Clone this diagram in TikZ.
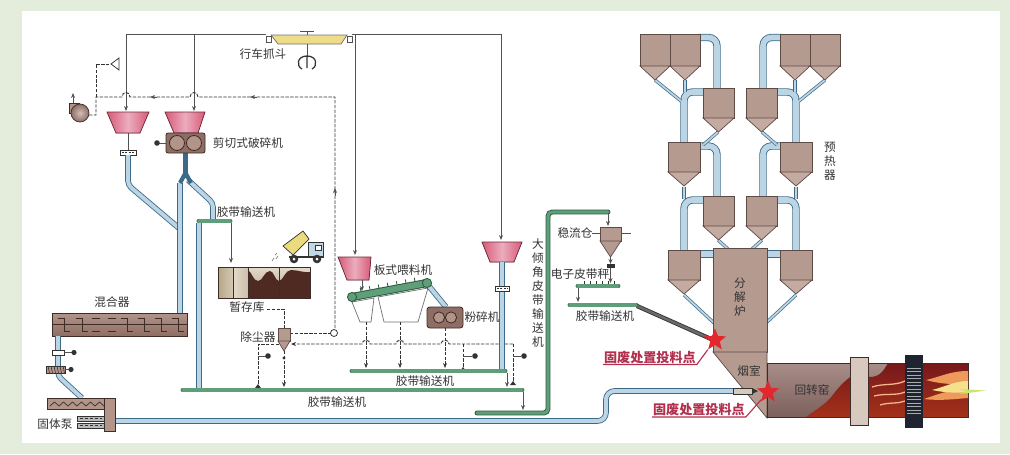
\documentclass[tikz,border=0pt]{standalone}
\usepackage{fontspec}
\newfontfamily\cjkfont{Noto Sans CJK SC}
\usetikzlibrary{positioning, shapes.geometric, arrows.meta, calc}

\definecolor{ink}{HTML}{333333}
\definecolor{panelbg}{HTML}{E4EDDC}
\definecolor{hopperpink}{HTML}{D85A7A}
\definecolor{hopperedge}{HTML}{6E2A3A}
\definecolor{machinebrown}{HTML}{8E6E64}
\definecolor{machinelight}{HTML}{B39489}
\definecolor{machineedge}{HTML}{3E2C28}
\definecolor{cycbrown}{HTML}{B59A90}
\definecolor{cyclight}{HTML}{C4ABA1}
\definecolor{cycedge}{HTML}{5E4A44}
\definecolor{pipefill}{HTML}{BCD5E4}
\definecolor{pipeedge}{HTML}{3C6A88}
\definecolor{beltfill}{HTML}{5E9E78}
\definecolor{beltedge}{HTML}{2F5A40}
\definecolor{craneyellow}{HTML}{EEDC8A}
\definecolor{truckyellow}{HTML}{EADB7E}
\definecolor{cabblue}{HTML}{BFD8E6}
\definecolor{soil}{HTML}{4E2A22}
\definecolor{storeA}{HTML}{B7A586}
\definecolor{storeB}{HTML}{E3DACA}
\definecolor{kilntop}{HTML}{A88D89}
\definecolor{kilnbottom}{HTML}{7C605C}
\definecolor{kilnred}{HTML}{8C1D20}
\definecolor{flameorange}{HTML}{EE9A5A}
\definecolor{flameyellow}{HTML}{F6E08C}
\definecolor{tyre}{HTML}{D8C9BE}
\definecolor{geardark}{HTML}{1E2430}
\definecolor{markred}{HTML}{B2304E}
\definecolor{starred}{HTML}{E0282E}
\definecolor{chutegrey}{HTML}{6A6A6A}

\begin{document}
\begin{tikzpicture}[
  x=0.025cm, y=-0.025cm,
  >={Stealth[length=3.5pt, width=2.8pt]},
  every node/.style={font=\cjkfont\fontsize{8.3}{10}\selectfont, text=ink, inner sep=1pt},
  vtext/.style={align=center, font=\cjkfont\fontsize{8.3}{9.9}\selectfont},
  wire/.style={draw=ink!85, line width=0.55pt},
  duct/.style={draw=ink, line width=0.65pt, dash pattern=on 2.4pt off 1pt},
  pipe/.style={draw=pipeedge, line width=0.6pt, double=pipefill, double distance=2.8pt, rounded corners=3pt},
  riser/.style={pipe, double distance=4pt, rounded corners=6pt},
  meal/.style={draw=pipeedge, line width=0.5pt, double=pipefill, double distance=1.3pt},
  belt/.style={draw=beltedge, line width=0.6pt, double=beltfill, double distance=2.3pt, line cap=round},
  hopper/.style={left color=hopperpink, right color=hopperpink, middle color=hopperpink!50!white, draw=hopperedge, line width=0.5pt},
  machine/.style={fill=machinebrown, draw=machineedge, line width=0.6pt},
  cyc/.style={fill=cycbrown, draw=cycedge, line width=0.5pt},
  feedstar/.style={star, star points=5, star point ratio=2.3, fill=starred, draw=none, minimum size=0.58cm, inner sep=0pt},
  warn/.style={font=\cjkfont\bfseries\fontsize{9.3}{11}\selectfont, text=markred, inner sep=0.6pt}
]
% backdrop and white panel
\fill[panelbg] (0,0) rectangle (1010,454);
\fill[white] (22,11) rectangle (1000,443);
\useasboundingbox (0,0) rectangle (1010,454);

% overhead crane with grab
\draw[wire] (300,31) -- (314,31) (307,31) -- (307,35);
\filldraw[fill=craneyellow, draw=ink!70, line width=0.5pt] (271,35) -- (347,35) -- (341,44) -- (278,44) -- cycle;
\draw[wire] (266,36) rectangle (271,42) (347,36) rectangle (352,42);
\draw[wire] (307,44) -- (307,56);
\draw[ink, line width=0.9pt] (307,56) .. controls (297,56) and (296,66) .. (302,69)
  (307,56) .. controls (317,56) and (318,66) .. (312,69) (307,56) -- (307,68);
\node (grab) at (263,54) {行车抓斗};

% crane feed lines
\draw[wire, ->] (266,34) -| (126,111);
\draw[wire, ->] (194,34) -- (194,111);
\draw[wire, ->] (352,34) -- (501,34) -- (501,240);
\draw[wire, ->] (355,34) -- (355,255);

% air duct to the fan
\draw[duct] (89,115) -- (96,115) -- (96,97) -- (122,97) .. controls (122,91) and (130,91) .. (130,97)
  -- (190,97) .. controls (190,91) and (198,91) .. (198,97) -- (335,97) -- (335,329);
\draw[duct] (96,97) -- (96,64) -- (111,64);
\filldraw[fill=white, draw=ink, line width=0.55pt] (111,64) -- (119,58) -- (119,70) -- cycle;
\draw[wire, ->] (157,97) -- (150,97);
\draw[wire, ->] (257,97) -- (250,97);
\draw[wire, ->] (335,196) -- (335,188);
\filldraw[fill=white, draw=ink, line width=0.55pt] (334,333) circle (3.5);

% fan
\filldraw[fill=machinelight, draw=machineedge, line width=0.5pt] (69,103) rectangle (79,113);
\shade[inner color=machinelight!60!white, outer color=machinebrown] (80,113) circle (9);
\draw[machineedge, line width=0.5pt] (80,113) circle (9);
\draw[wire, ->] (73,103) -- (73,93);

% feed hoppers and shear crusher
\filldraw[hopper] (107,112) -- (149,112) -- (140,133) -- (116,133) -- cycle;
\filldraw[hopper] (165,112) -- (205,112) -- (198,133) -- (174,133) -- cycle;
\draw[wire] (128,133) -- (128,150);
\filldraw[fill=white, draw=ink, line width=0.5pt] (120,150) rectangle (136,155);
\draw[ink, line width=1.2pt, dash pattern=on 1.5pt off 1pt] (121.5,152.5) -- (135,152.5);
\draw[pipe] (128,155) -- (128,185) -- (180,229);
\draw[pipe] (180,183) -- (180,313);
\draw[pipe] (188,180) -- (213,203) -- (213,219);
\draw[pipeedge, line width=3.4pt] (185.5,153) -- (185.5,176);
\draw[pipeedge, line width=3pt] (185.5,173) -- (180,183) (185.5,173) -- (191,183);
\filldraw[machine, rounded corners=1.5pt] (166,133) rectangle (205,153);
\filldraw[fill=machinelight, draw=machineedge, line width=0.6pt] (177,143) circle (7.5) (194,143) circle (7.5);
\draw[wire] (158,143) -- (166,143);
\fill[ink] (157,143) circle (2.8);
\node (shear) at (248,143) {剪切式破碎机};

% short belt under the crusher
\draw[pipe] (199,223) -- (199,388);
\draw[belt] (199,221) -- (230,221);
\node (beltA) at (246,212) {胶带输送机};
\draw[wire, ->] (231,223) -- (231,263);

% temporary storage
\shade[left color=storeA, right color=storeA!60!white] (218,267) rectangle (233,298);
\shade[left color=storeB, right color=storeA!70!white] (233,267) rectangle (248,298);
\shade[top color=storeB, bottom color=storeA] (248,267) rectangle (310,298);
\fill[soil] (248,298) -- (248,270) .. controls (252,272) and (253,281) .. (258,281)
  .. controls (263,281) and (264,271) .. (270,271) .. controls (274,271) and (275,281) .. (279,281)
  .. controls (283,281) and (285,270) .. (291,270) .. controls (298,270) and (304,273) .. (310,272)
  -- (310,298) -- cycle;
\draw[machineedge, line width=0.6pt] (218,267) rectangle (310,298)
  (233,267) -- (233,298) (248,267) -- (248,298) (279,267) -- (279,298);
\node (store) at (247,307) {暂存库};

% dump truck
\filldraw[fill=truckyellow, draw=ink, line width=0.5pt] (283,246) -- (303,231) -- (309,239) -- (293,255) -- cycle;
\filldraw[fill=cabblue, draw=ink, line width=0.5pt] (308,242) rectangle (323,257);
\filldraw[fill=white, draw=ink, line width=0.4pt] (315,245) rectangle (321,250);
\draw[ink, line width=1pt] (289,257) -- (323,257);
\fill[ink] (294,259) circle (4.3) (317,259) circle (4.3);
\fill[white] (294,259) circle (1.5) (317,259) circle (1.5);
\draw[ink!60, line width=0.5pt] (272,261) -- (274,258) (276,259) -- (278,256) (275,255) -- (277,253);

% dust collector
\draw[duct] (267,309) -- (284,309) -- (284,328);
\draw[duct] (290,333) -- (330.5,333);
\filldraw[cyc] (278,328) rectangle (290,341);
\filldraw[cyc] (278,341) -- (290,341) -- (284,351) -- cycle;
\node (dust) at (258,337) {除尘器};
\draw[duct] (279,344) -- (258,344) -- (258,385);
\draw[wire] (258,356) -- (266,356);
\fill[ink] (268,356) circle (2.8);
\fill[ink] (255,388) -- (261,388) -- (258,384) -- cycle;
\draw[duct, ->] (284,351) -- (284,387);
\fill[ink] (284,358) circle (1.6);
\draw[duct, ->] (513,344) -- (449,344) .. controls (449,339) and (441,339) .. (441,344)
  -- (404,344) .. controls (404,339) and (396,339) .. (396,344)
  -- (370,344) .. controls (370,339) and (362,339) .. (362,344) -- (291,344);

% mixer
\shade[top color=machinelight, bottom color=machinebrown] (52,313) rectangle (187,336);
\draw[machineedge, line width=0.6pt] (52,313) rectangle (187,336);
\draw[machineedge, line width=0.5pt] (52,324.5) -- (187,324.5);
\foreach \bx in {64,82,127,144,161,178}
  \draw[machineedge, line width=0.5pt] (\bx-6,318) -- (\bx,318) -- (\bx,331) -- (\bx+6,331);
\foreach \bx in {92,108}
  \draw[machineedge, line width=0.5pt] (\bx,318) -- (\bx+8,318) (\bx,331) -- (\bx+8,331);
\node (mixer) at (112,302) {混合器};

% valves, screw feeder and solid pump
\draw[pipe] (58,336) -- (58,376) -- (82,398);
\filldraw[fill=white, draw=ink, line width=0.5pt] (52,350) rectangle (64,355);
\draw[wire] (64,352.5) -- (72,352.5);
\fill[ink] (74,352.5) circle (2.6);
\filldraw[fill=machinelight, draw=ink, line width=0.5pt] (46,366) rectangle (65,373);
\foreach \sx in {48,51,...,63}
  \draw[ink, line width=0.4pt] (\sx,366) -- (\sx+1.5,373);
\draw[wire] (65,369.5) -- (69,369.5);
\fill[ink] (71,369.5) circle (2.6);
\draw[pipe, rounded corners=6pt] (115,421) -- (606,421) -- (606,391) -- (733,391);
\filldraw[machine, fill=machinelight] (47,398) rectangle (115,409);
\draw[ink, line width=0.5pt] (50,406) \foreach \w in {1,...,6} { -- ++(4.5,-4) -- ++(4.5,4) };
\filldraw[machine, fill=machinelight] (104,398) rectangle (115,431);
\filldraw[fill=gray!55, draw=ink, line width=0.5pt] (77,416) rectangle (104,421) (77,423) rectangle (104,428);
\draw[ink, line width=0.8pt, dash pattern=on 2pt off 1.5pt] (80,418.5) -- (102,418.5) (80,425.5) -- (102,425.5);
\node (pump) at (55,424) {固体泵};

% apron feeder, hammer crusher and their hoppers
\filldraw[hopper] (338,257) -- (371,257) -- (369,280) -- (347,280) -- cycle;
\node (apronlbl) at (403,270) {板式喂料机};
\draw[wire, ->] (362,280) -- (362,291);
\draw[fill=white, draw=ink!70, line width=0.5pt] (352,302) -- (374,298) -- (371,322) -- (360,322) -- cycle;
\draw[fill=white, draw=ink!70, line width=0.5pt] (378,297) -- (428,288) -- (418,322) -- (384,322) -- cycle;
\draw[pipe] (428,285) -- (446,307);
\draw[draw=beltedge, line width=0.7pt, double=beltfill, double distance=4.4pt] (352,297) -- (427,283);
\foreach \tx/\ty in {361/295.3, 370/293.6, 379/292, 388/290.3, 397/288.6, 406/286.9, 415/285.2}
  \draw[beltedge, line width=0.6pt] (\tx,\ty-4) -- (\tx-0.8,\ty-7.5);
\filldraw[fill=beltfill, draw=beltedge, line width=0.6pt] (352,297) circle (4.6) (427,283) circle (4.6);
\filldraw[machine, rounded corners=2pt] (427,307) rectangle (463,328);
\filldraw[fill=machinelight, draw=machineedge, line width=0.6pt] (439,317.5) circle (5.6) (451,317.5) circle (5.6);
\node (mill) at (482,317) {粉碎机};
\draw[duct, ->] (366,322) -- (366,368);
\draw[duct, ->] (400,322) -- (400,368);
\draw[duct, ->] (445,328) -- (445,368);
\draw[duct] (463,344) -- (463,369);
\draw[wire] (463,356) -- (472,356);
\fill[ink] (475,356) circle (2.8);
\fill[ink] (460,371) -- (466,371) -- (463,367) -- cycle;
\draw[duct] (513,344) -- (513,382);
\draw[wire] (513,356) -- (521,356);
\fill[ink] (524,356) circle (2.8);
\fill[ink] (510,385) -- (516,385) -- (513,381) -- cycle;

% hopper to the upper belt
\filldraw[hopper] (482,242) -- (522,242) -- (514,262) -- (490,262) -- cycle;
\draw[pipe] (502,262) -- (502,370);
\filldraw[fill=white, draw=ink, line width=0.5pt] (495,286) rectangle (509,291);
\draw[ink, line width=1.1pt, dash pattern=on 1.5pt off 1pt] (496.5,288.5) -- (508,288.5);

% ground belts
\draw[belt] (352,371) -- (505,371);
\node (beltB) at (425,381) {胶带输送机};
\draw[wire, ->] (507,373) -- (507,387);
\draw[belt] (183,390) -- (522,390);
\node (beltC) at (337,402) {胶带输送机};
\draw[wire, ->] (523,392) -- (523,410);
\draw[belt, rounded corners=3pt] (477,413) -- (548,413) -- (548,212) -- (608,212);
\draw[wire, ->] (608,213) -- (608,226);
\node[vtext] (incline) at (538,293) {大\\倾\\角\\皮\\带\\输\\送\\机};

% surge bin, weigh belt and feed belt
\filldraw[cyc] (600,227) rectangle (621,241);
\filldraw[cyc] (600,241) -- (621,241) -- (610.5,257) -- cycle;
\draw[wire] (592,233) -- (600,233) (621,233) -- (631,233);
\node (surge) at (575,233) {稳流仓};
\draw[wire, ->] (610.5,257) -- (610.5,264);
\fill[ink] (606.5,264) rectangle (614.5,268);
\draw[wire, ->] (610.5,268) -- (610.5,283);
\node (scale) at (580,274) {电子皮带秤};
\foreach \kx in {584,590,...,614}
  \draw[ink, line width=0.5pt] (\kx,281) -- (\kx,283.5);
\draw[belt] (578,286) -- (618,286);
\draw[wire, ->] (578,288) -- (578,302);
\draw[belt] (570,305) -- (636,305);
\node (beltD) at (605,316) {胶带输送机};
\draw[draw=ink, line width=0.6pt, double=chutegrey, double distance=1.8pt] (637,306) -- (711,339);

% preheater ducts
\draw[riser] (698,37.5) -- (717,37.5) -- (717,90);
\draw[riser] (705,92) -- (684,92) -- (684,144);
\draw[riser] (698,146) -- (717,146) -- (717,198);
\draw[riser] (705,200) -- (684,200) -- (684,252);
\draw[riser] (698,254) -- (715,254);
\draw[riser] (782,37.5) -- (763,37.5) -- (763,90);
\draw[riser] (775,92) -- (796,92) -- (796,144);
\draw[riser] (782,146) -- (763,146) -- (763,198);
\draw[riser] (775,200) -- (796,200) -- (796,252);
\draw[riser] (782,254) -- (765,254);
\draw[meal] (655,80) -- (681,101);
\draw[meal] (685,80) -- (685,92);
\draw[meal] (825,80) -- (799,101);
\draw[meal] (795,80) -- (795,92);
\draw[meal] (718,132) -- (703,145);
\draw[meal] (762,132) -- (777,145);
\draw[meal] (684,187) -- (684,199);
\draw[meal] (796,187) -- (796,199);
\draw[meal] (718,240) -- (729,250);
\draw[meal] (762,240) -- (751,250);
\draw[meal] (684,295) -- (714,323);
\draw[meal] (796,295) -- (766,323);

% cyclones
\foreach \cx/\cy/\cw/\ch in {640/34/30/32, 670/34/30/32, 780/34/30/32, 810/34/30/32,
    703/88/31/30, 746/88/31/30, 668/142/32/30, 780/142/32/30,
    703/196/31/30, 746/196/31/30, 668/250/32/30, 780/250/32/30} {
  \filldraw[cyc] (\cx,\cy) rectangle (\cx+\cw,\cy+\ch);
  \filldraw[cyc, fill=cyclight] (\cx,\cy+\ch) -- (\cx+\cw,\cy+\ch) -- (\cx+\cw/2,\cy+\ch+14) -- cycle;
}
\node[vtext] (preheat) at (830,161) {预\\热\\器};

% calciner and smoke chamber
\filldraw[cyc] (713,248) rectangle (767,352);
\filldraw[cyc] (713,352) -- (767,352) -- (767,418) -- cycle;
\node[vtext] (calciner) at (740,297) {分\\解\\炉};
\node (smokebox) at (749,371) {烟室};

% rotary kiln
\shade[top color=kilntop, bottom color=kilnbottom] (767,363) rectangle (968,417);
\shade[top color=kilnred!85!black, bottom color=kilnred!80!orange] (806,417)
  .. controls (815,410) and (825,405) .. (832,396) .. controls (838,388) and (845,380) .. (852,376)
  -- (870,377) .. controls (880,377) and (884,370) .. (888,363) -- (968,363) -- (968,417) -- cycle;
\draw[machineedge, line width=0.5pt] (767,363) rectangle (968,417);
\fill[flameorange] (968,371) .. controls (950,371) and (940,377) .. (926,380) .. controls (940,384) and (955,385) .. (968,383) -- cycle;
\fill[flameorange] (968,389) .. controls (950,389) and (936,395) .. (924,399) .. controls (940,401) and (955,399) .. (968,398) -- cycle;
\fill[flameyellow] (968,381) .. controls (955,381) and (944,387) .. (932,390) .. controls (946,393) and (958,393) .. (968,392) -- cycle;
\fill[flameyellow!80!green] (958,389) -- (986,390.5) -- (960,394) -- (966,391) -- cycle;
\draw[flameorange!70!white, line width=0.9pt] (872,387) .. controls (884,383) and (895,386) .. (905,381)
  (874,396) .. controls (886,393) and (896,396) .. (905,392) (880,405) .. controls (890,402) and (898,404) .. (905,401);
\filldraw[fill=tyre, draw=machineedge, line width=0.5pt] (850,357) rectangle (868,425);
\fill[geardark] (905,355) rectangle (923,428);
\foreach \gy in {368,371.5,...,414}
  \draw[gray!65, line width=0.6pt] (907,\gy) -- (921,\gy);
\node (kiln) at (812,390) {回转窑};

% feed points
\filldraw[fill=tyre, draw=ink, line width=0.5pt] (733,388) rectangle (752,394);
\fill[ink] (752,388) -- (758,391) -- (752,394) -- cycle;
\node[feedstar] (feedA) at (715,340) {};
\node[feedstar] (feedB) at (768,392) {};
\node[warn, anchor=south west] (feedAlbl) at (603,364.5) {固废处置投料点};
\node[warn, anchor=south west] (feedBlbl) at (652,417) {固废处置投料点};
\draw[markred, line width=0.8pt] (feedAlbl.south west) -- (feedAlbl.south east) -- (feedA);
\draw[markred, line width=0.8pt] (feedBlbl.south west) -- (feedBlbl.south east) -- (feedB);
\end{tikzpicture}
\end{document}
